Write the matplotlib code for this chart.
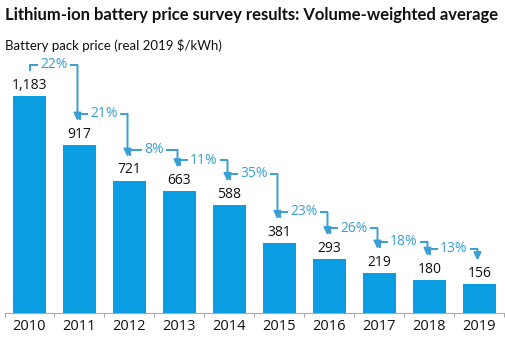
import matplotlib
matplotlib.use('Agg')
from matplotlib import pyplot as plt

years = ['2010', '2011', '2012', '2013', '2014', '2015', '2016', '2017', '2018', '2019']
prices = [1183, 917, 721, 663, 588, 381, 293, 219, 180, 156]
drops = ['22%', '21%', '8%', '11%', '35%', '23%', '26%', '18%', '13%']

bar_color = '#0a9de2'
note_color = '#3a9fd2'
num_font = ['Open Sans', 'DejaVu Sans']

plt.rcParams['font.family'] = ['Lato', 'DejaVu Sans']

fig = plt.figure(figsize=(5.06, 3.38), dpi=100)
ax = fig.add_axes([4.5 / 506, 25 / 338, 500 / 506, 260.4 / 338])

x = list(range(len(years)))
ax.bar(x, prices, width=0.66, color=bar_color)

# price labels above each bar
for i, p in enumerate(prices):
    ax.text(i, p + 18, f'{p:,}', ha='center', va='bottom', fontsize=10,
            color='#111111', family=num_font)

# year-on-year drop brackets with arrows
for i, d in enumerate(drops):
    x0 = i + 0.02
    x1 = i + 1 - 0.04
    yh = prices[i] + 170
    tip = prices[i + 1] + 130
    ax.plot([x0, x0, x1], [yh - 33, yh, yh], color=note_color, lw=1.4,
            solid_joinstyle='miter', solid_capstyle='butt')
    ax.annotate('', xy=(x1, tip), xytext=(x1, yh),
                arrowprops=dict(arrowstyle='-|>,head_length=0.45,head_width=0.22',
                                color=note_color, lw=1.4, shrinkA=0, shrinkB=0))
    ax.text((x0 + x1) / 2, yh, d, ha='center', va='center', fontsize=10,
            color=note_color, family=num_font,
            bbox=dict(fc='white', ec='none', pad=1.6))

ax.set_xlim(-0.5, 9.5)
ax.set_ylim(0, 1420)
ax.set_xticks(x)
ax.set_xticklabels(years, fontsize=10.5, color='#111111', family=num_font)
ax.set_xticks([i + 0.5 for i in range(-1, 10)], minor=True)
ax.tick_params(axis='x', which='major', length=0, pad=4)
ax.tick_params(axis='x', which='minor', length=3, color='#aaaaaa', width=0.8)
ax.set_yticks([])
for s in ['top', 'right', 'left']:
    ax.spines[s].set_visible(False)
ax.spines['bottom'].set_color('#aaaaaa')
ax.spines['bottom'].set_linewidth(0.8)

fig.text(5 / 506, 1 - 15 / 338, 'Lithium-ion battery price survey results: Volume-weighted average',
         ha='left', va='center', fontsize=12, fontweight='bold', color='#111111')
fig.text(5 / 506, 1 - 45 / 338, 'Battery pack price (real 2019 $/kWh)',
         ha='left', va='center', fontsize=9.5, color='#111111')

fig.savefig('out.png', dpi=100)
